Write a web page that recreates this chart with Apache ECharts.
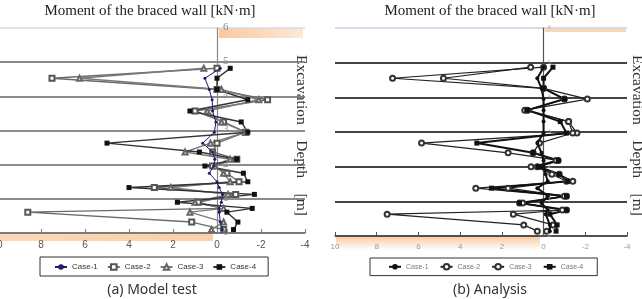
<!DOCTYPE html>
<html>
<head>
<meta charset="utf-8">
<script src="https://cdn.jsdelivr.net/npm/echarts@6/dist/echarts.min.js"></script>
<style>
  html, body { margin: 0; padding: 0; background: #fff; }
  #chart { width: 642px; height: 299px; }
</style>
</head>
<body>
<div id="chart"></div>
<script>
// depth levels (m, measured up from the bottom axis)
const depthA = [4.82, 4.53, 4.2, 3.9, 3.57, 3.25, 2.95, 2.63, 2.37, 2.16, 1.96, 1.75, 1.5, 1.33, 1.13, 0.9, 0.72, 0.61, 0.32, 0.1];
const depthB = [4.87, 4.55, 4.26, 3.95, 3.63, 3.3, 2.97, 2.68, 2.4, 2.18, 2.0, 1.78, 1.58, 1.38, 1.15, 0.95, 0.75, 0.63, 0.32, 0.14];

// (a) Model test - moment [kN·m]
const case1A = [-0.15, 0.55, 0.35, 0.22, 0.2, 0.05, 0.12, 0.65, 0.2, 0.1, 0.15, 0.35, 0, -0.1, -0.25, -0.2, -0.1, -0.1, -0.15, -0.25];
const case2A = [0, 7.5, 0, -2.3, 1.0, -0.3, -1.3, 0, 0.2, -0.9, 0.2, -0.45, -1.0, 2.85, -0.85, 0.85, -0.2, 8.6, 1.15, -0.3];
const case3A = [0.6, 6.25, -0.2, -1.9, 0.45, -0.2, -1.3, 0.3, 1.45, -0.6, 0.1, -0.3, -0.6, 2.1, -0.5, 1.0, -0.3, 1.23, -0.3, 0.25];
const case4A = [-0.6, 0, 0, -1.4, 1.23, -1.1, -1.4, 5.0, 0.8, -0.9, 0.55, -1.2, -1.4, 4.0, -1.7, 1.8, -1.6, -0.45, -0.95, -0.75];

// (b) Analysis - moment [kN·m]
const case1B = [0, 0.3, 0.1, 0, 0, 0, 0, 0.3, 0.1, 0, 0, -0.1, -0.2, 0.3, -0.2, 0.1, -0.2, -0.1, -0.3, -0.3];
const case2B = [0, 7.24, 0, -2.1, 0.9, -1.2, -1.6, 5.85, 1.7, -0.7, 0.6, -0.75, -1.4, 3.25, -1.1, 1.15, -1.1, 7.5, 0.95, 0.3];
const case3B = [0.62, 4.8, 0, -1.0, 0.77, -1.2, -1.4, 0.2, 0.5, -0.6, 0.3, -0.4, -1.1, 1.7, -1.0, 1.0, -0.9, 1.45, -0.45, -0.15];
const case4B = [-0.45, 0, 0, -1.0, 0.77, -0.8, -1.1, 3.2, 0.5, -0.7, 0.25, -0.75, -1.15, 2.5, -1.1, 1.15, -1.1, -0.3, -0.65, -0.6];

const caseNames = ['Case-1', 'Case-2', 'Case-3', 'Case-4'];
const depthTicks = [0, 1, 2, 3, 4, 5, 6];

function pairs(vals, depths) {
    return vals.map(function(v, i) { return [v, depths[i]]; });
}

const chart = echarts.init(document.getElementById('chart'));

const serif = 'Liberation Serif, DejaVu Serif, serif';
const narrow = 'Liberation Sans Narrow, Liberation Sans, sans-serif';

function xAxisFor(grid, labelColor, labelSize, lineColor) {
    return {
        type: 'value', gridIndex: grid, min: -4, max: 10, interval: 2, inverse: true,
        axisLine: { onZero: false, lineStyle: { color: lineColor, width: 1.5 } },
        axisTick: { inside: true, length: 4, lineStyle: { color: lineColor } },
        axisLabel: { color: labelColor, fontSize: labelSize, margin: 7, fontFamily: narrow, hideOverlap: false },
        splitLine: { show: false }
    };
}

function yAxisFor(grid, axisColor, splitColor, splitWidth) {
    return {
        type: 'value', gridIndex: grid, min: 0, max: 6, interval: 1,
        axisLine: { onZero: true, lineStyle: { color: axisColor, width: 1.2 } },
        axisTick: { show: false },
        axisLabel: { show: false },
        splitLine: { show: true, lineStyle: { color: [splitColor, splitColor, splitColor, splitColor, splitColor, splitColor, '#d8d8e8'], width: splitWidth } }
    };
}

const graphics = [
    // ground / soil shading bands
    { type: 'rect', shape: { x: 219, y: 28, width: 84, height: 10 }, silent: true,
      style: { fill: new echarts.graphic.LinearGradient(0, 0, 1, 0, [{ offset: 0, color: '#f9c9a0' }, { offset: 1, color: '#fde8d6' }]) } },
    { type: 'rect', shape: { x: 0, y: 234, width: 213, height: 7 }, silent: true,
      style: { fill: new echarts.graphic.LinearGradient(0, 0, 1, 0, [{ offset: 0, color: '#fbd8b8' }, { offset: 1, color: '#f9d0aa' }]) } },
    { type: 'rect', shape: { x: 545, y: 28, width: 81, height: 4 }, silent: true,
      style: { fill: '#fbd6b4' } },
    { type: 'rect', shape: { x: 336, y: 237, width: 204, height: 13 }, silent: true,
      style: { fill: new echarts.graphic.LinearGradient(0, 0, 0, 1, [{ offset: 0, color: '#f9cca4' }, { offset: 1, color: '#ffffff' }]) } },
    // titles
    { type: 'text', x: 150, y: 4,
      style: { text: 'Moment of the braced wall [kN·m]', font: '15px ' + serif, fill: '#222', textAlign: 'center' } },
    { type: 'text', x: 490, y: 4,
      style: { text: 'Moment of the braced wall [kN·m]', font: '15px ' + serif, fill: '#222', textAlign: 'center' } },
    // right-hand axis names
    { type: 'text', x: 309, y: 55, rotation: -Math.PI / 2,
      style: { text: 'Excavation    Depth    [m]', font: '15.5px ' + serif, fill: '#333' } },
    { type: 'text', x: 645, y: 55, rotation: -Math.PI / 2,
      style: { text: 'Excavation    Depth    [m]', font: '15.5px ' + serif, fill: '#333' } },
    // captions
    { type: 'text', x: 152, y: 283,
      style: { text: '(a) Model test', font: '14px Noto Sans, sans-serif', fill: '#333', textAlign: 'center' } },
    { type: 'text', x: 490, y: 283,
      style: { text: '(b) Analysis', font: '14px Noto Sans, sans-serif', fill: '#333', textAlign: 'center' } }
];

const option = {
    backgroundColor: '#fff',
    animation: false,
    grid: [
        { left: -3, top: 28, width: 308, height: 205, outerBoundsMode: 'none', containLabel: false },
        { left: 335, top: 28, width: 292, height: 208, outerBoundsMode: 'none', containLabel: false }
    ],
    xAxis: [
        xAxisFor(0, '#555', 10, '#777'),
        xAxisFor(1, '#999', 8, '#555')
    ],
    yAxis: [
        yAxisFor(0, '#888', '#666', 1.5),
        yAxisFor(1, '#555', '#444', 2)
    ],
    legend: [
        {
            left: 40, top: 257, orient: 'horizontal',
            data: caseNames,
            borderColor: '#333', borderWidth: 1, borderRadius: 0,
            padding: [6, 12, 5, 14], itemGap: 9, itemWidth: 12, itemHeight: 7,
            textStyle: { fontSize: 8, color: '#333', fontFamily: narrow }
        },
        {
            left: 370, top: 258, orient: 'horizontal',
            data: caseNames.map(function(n) { return n + ' (b)'; }),
            formatter: function(n) { return n.replace(' (b)', ''); },
            borderColor: '#333', borderWidth: 1, borderRadius: 0,
            padding: [5, 14, 5, 18], itemGap: 11, itemWidth: 12, itemHeight: 7,
            textStyle: { fontSize: 7, color: '#777', fontFamily: narrow }
        }
    ],
    graphic: graphics,
    series: [
        { name: 'Case-1', type: 'line', xAxisIndex: 0, yAxisIndex: 0, data: pairs(case1A, depthA),
          symbol: 'circle', symbolSize: 3, lineStyle: { color: '#1c1c6a', width: 1 }, itemStyle: { color: '#1c1c6a' }, z: 5 },
        { name: 'Case-2', type: 'line', xAxisIndex: 0, yAxisIndex: 0, data: pairs(case2A, depthA),
          symbol: 'emptyRect', symbolSize: 5, lineStyle: { color: '#6a6a6a', width: 1.4 }, itemStyle: { color: '#555', borderWidth: 1 } },
        { name: 'Case-3', type: 'line', xAxisIndex: 0, yAxisIndex: 0, data: pairs(case3A, depthA),
          symbol: 'emptyTriangle', symbolSize: 5, lineStyle: { color: '#7a7a7a', width: 1.4 }, itemStyle: { color: '#666', borderWidth: 1 } },
        { name: 'Case-4', type: 'line', xAxisIndex: 0, yAxisIndex: 0, data: pairs(case4A, depthA),
          symbol: 'rect', symbolSize: 5, lineStyle: { color: '#333', width: 1.4 }, itemStyle: { color: '#111' } },

        { name: 'Case-1 (b)', type: 'line', xAxisIndex: 1, yAxisIndex: 1, data: pairs(case1B, depthB),
          symbol: 'circle', symbolSize: 4, lineStyle: { color: '#111', width: 2 }, itemStyle: { color: '#111' }, z: 5 },
        { name: 'Case-2 (b)', type: 'line', xAxisIndex: 1, yAxisIndex: 1, data: pairs(case2B, depthB),
          symbol: 'emptyCircle', symbolSize: 5, lineStyle: { color: '#222', width: 1.2 }, itemStyle: { color: '#333', borderWidth: 1 } },
        { name: 'Case-3 (b)', type: 'line', xAxisIndex: 1, yAxisIndex: 1, data: pairs(case3B, depthB),
          symbol: 'emptyCircle', symbolSize: 5, lineStyle: { color: '#222', width: 1.2 }, itemStyle: { color: '#333', borderWidth: 1 } },
        { name: 'Case-4 (b)', type: 'line', xAxisIndex: 1, yAxisIndex: 1, data: pairs(case4B, depthB),
          symbol: 'rect', symbolSize: 5, lineStyle: { color: '#111', width: 2 }, itemStyle: { color: '#111' } }
    ]
};

chart.setOption(option);

// depth tick labels sit beside the zero-moment axis, placed through the grid's own scale
depthTicks.forEach(function(d) {
    const pa = chart.convertToPixel({ gridIndex: 0 }, [0, d]);
    const pb = chart.convertToPixel({ gridIndex: 1 }, [0, d]);
    graphics.push({ type: 'text', x: pa[0] + 6, y: pa[1] - 1, z: 100,
        style: { text: String(d), font: '11px ' + serif, fill: '#8a8a8a', textVerticalAlign: 'middle' } });
    graphics.push({ type: 'text', x: pb[0] + 4, y: pb[1] - 1, z: 100,
        style: { text: String(d), font: '7px ' + serif, fill: '#b0b0b0', textVerticalAlign: 'middle' } });
});
chart.setOption({ graphic: graphics });
</script>
</body>
</html>
